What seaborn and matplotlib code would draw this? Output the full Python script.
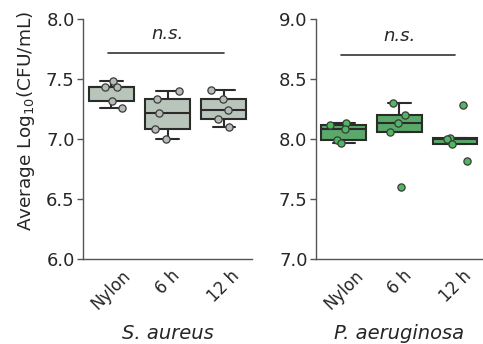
import numpy as np
import pandas as pd
import matplotlib
matplotlib.use("Agg")
import matplotlib.pyplot as plt
import seaborn as sns

categories = ["Nylon", "6 h", "12 h"]
sa_nylon = [7.48, 7.43, 7.43, 7.32, 7.26]
sa_6h = [7.40, 7.33, 7.22, 7.08, 7.00]
sa_12h = [7.41, 7.33, 7.24, 7.17, 7.10]
pa_nylon = [8.13, 8.12, 8.08, 7.99, 7.97]
pa_6h = [8.30, 8.20, 8.13, 8.06, 7.60]
pa_12h = [8.28, 8.01, 8.00, 7.96, 7.82]

sa_color_box = "#b9c5bb"
sa_color_pt = "#b3bdb3"
pa_color_box = "#5aa96a"
pa_color_pt = "#4cb860"

def make_df(groups):
    rows = []
    for cat, vals in zip(categories, groups):
        for v in vals:
            rows.append({"cond": cat, "val": v})
    return pd.DataFrame(rows)

sa_df = make_df([sa_nylon, sa_6h, sa_12h])
pa_df = make_df([pa_nylon, pa_6h, pa_12h])

sns.set_style("white")
plt.rcParams['font.family'] = ['DejaVu Sans']
np.random.seed(3)

fig = plt.figure(figsize=(4.83, 3.44), dpi=100)
ax1 = fig.add_axes([0.172, 0.247, 0.35, 0.698])
ax2 = fig.add_axes([0.654, 0.247, 0.346, 0.698])

edge = "#2b2b2b"
panels = [
    (ax1, sa_df, sa_color_box, sa_color_pt, (6.0, 8.0), [6.0, 6.5, 7.0, 7.5, 8.0], "S. aureus", 7.72),
    (ax2, pa_df, pa_color_box, pa_color_pt, (7.0, 9.0), [7.0, 7.5, 8.0, 8.5, 9.0], "P. aeruginosa", 8.70),
]
for ax, df, cbox, cpt, ylim, yt, xlabel, sig_y in panels:
    sns.boxplot(data=df, x="cond", y="val", order=categories, ax=ax, color=cbox,
                width=0.8, showfliers=False, linewidth=1.5, saturation=1,
                boxprops=dict(edgecolor=edge), whiskerprops=dict(color=edge),
                capprops=dict(color=edge), medianprops=dict(color=edge))
    sns.stripplot(data=df, x="cond", y="val", order=categories, ax=ax, color=cpt,
                  jitter=0.25, size=5.2, edgecolor="#3a3a3a", linewidth=0.9, zorder=5)
    ax.set_ylim(*ylim)
    ax.set_yticks(yt)
    ax.set_yticklabels([f"{t:.1f}" for t in yt], fontsize=13)
    ax.set_xlim(-0.5, 2.5)
    ax.set_xticks(range(3))
    ax.set_xticklabels(categories, rotation=45, ha="center", fontsize=12)
    ax.set_xlabel(xlabel, fontsize=14, style="italic", labelpad=8)
    ax.set_ylabel("")
    for s in ["top", "right"]:
        ax.spines[s].set_visible(False)
    for s in ["left", "bottom"]:
        ax.spines[s].set_color("#555555")
        ax.spines[s].set_linewidth(1.0)
    ax.tick_params(axis="y", which="major", left=True, length=4, width=1, color="#555555", pad=2)
    ax.tick_params(axis="x", bottom=False, pad=2)
    ax.plot([-0.05, 2.0], [sig_y, sig_y], color="#333333", lw=1.2, clip_on=False)
    ax.text(1.0, sig_y + 0.08, "n.s.", ha="center", va="bottom", fontsize=13, style="italic")

ax1.set_ylabel("Average Log$_{10}$(CFU/mL)", fontsize=13.3, labelpad=6)
ax1.yaxis.set_label_coords(-0.275, 0.575)

fig.savefig("out.png", dpi=100)
